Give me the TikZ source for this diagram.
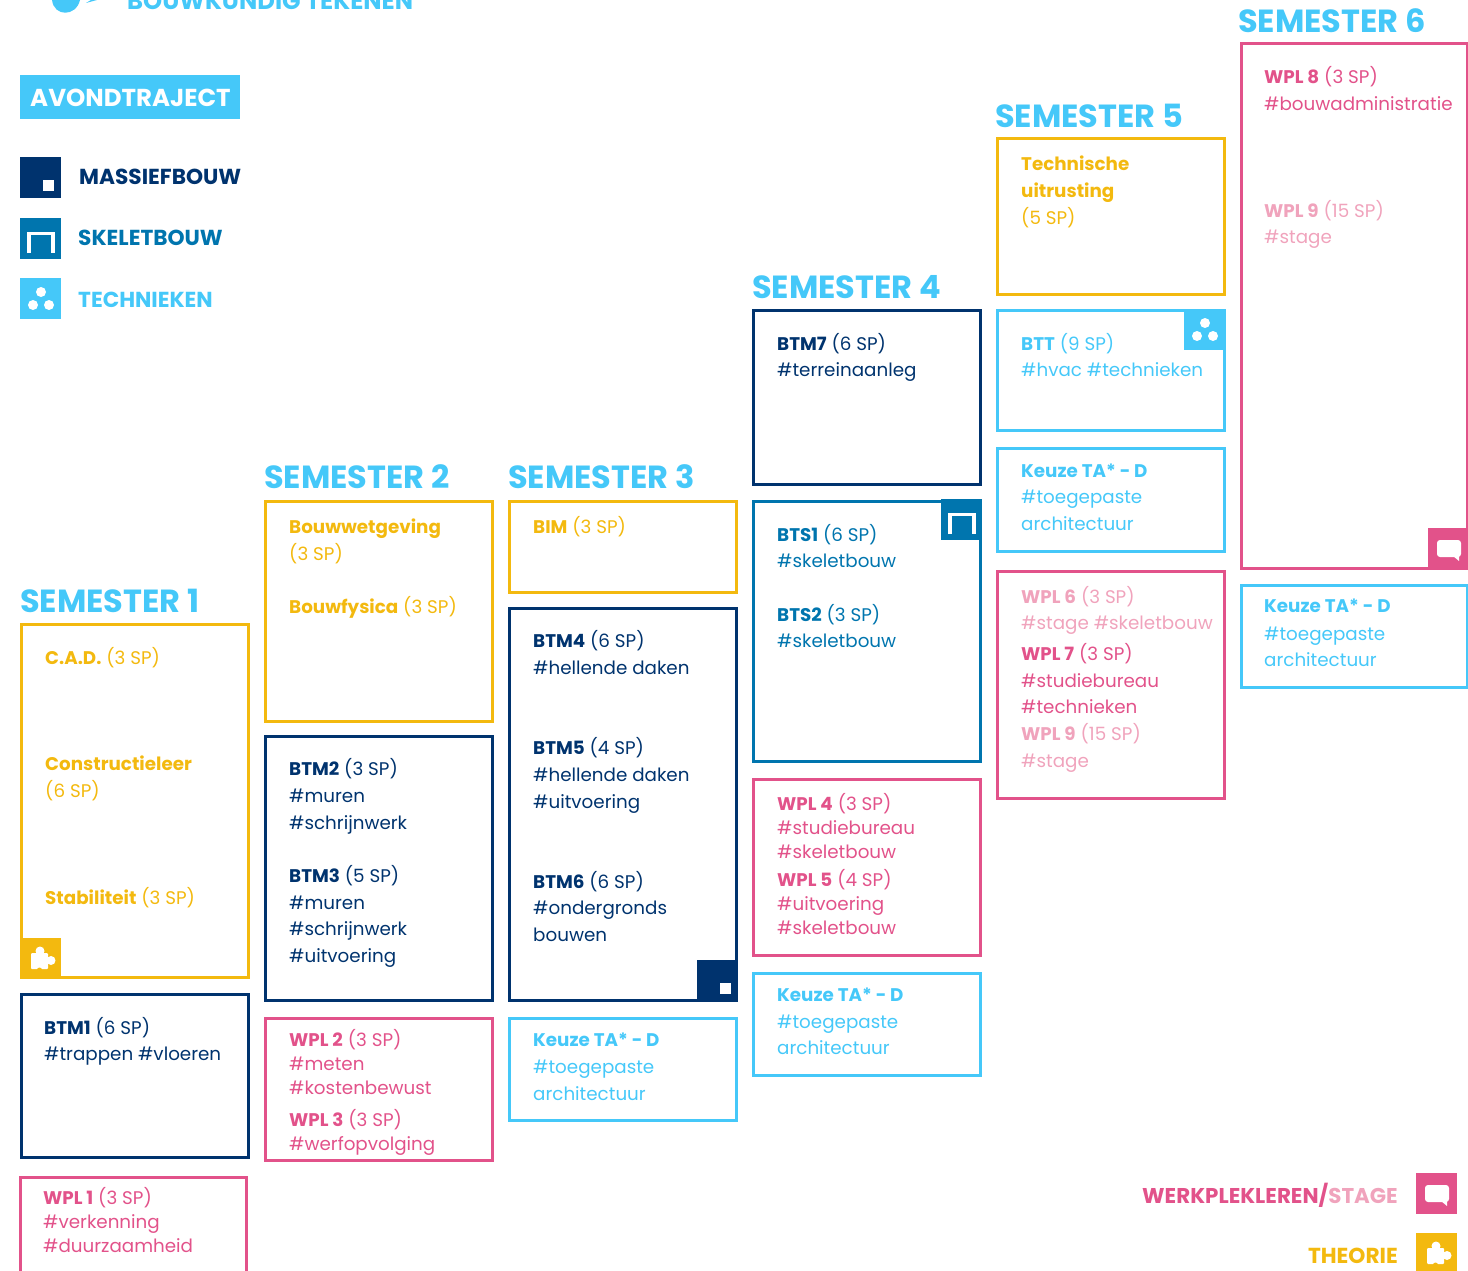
\documentclass[tikz,border=0pt]{standalone}
\usepackage{fontspec}
\setmainfont{Poppins}
\definecolor{cyanT}{HTML}{45C8F9}
\definecolor{navyT}{HTML}{00336E}
\definecolor{blueT}{HTML}{0075AE}
\definecolor{yellowT}{HTML}{F3B90F}
\definecolor{pinkT}{HTML}{E2528A}
\definecolor{roseT}{HTML}{F0A3BC}
\tikzset{
  frame/.style={line width=3pt},
  lbl/.style={anchor=base west,inner sep=0pt,yshift=0.7pt,font=\fontsize{18.3}{20}\selectfont},
  title/.style={anchor=base west,inner sep=0pt,font=\fontsize{32}{34}\selectfont\bfseries},
  legend/.style={anchor=base west,inner sep=0pt,font=\fontsize{21.7}{24}\selectfont\bfseries},
  pics/massief/.style={code={
    \fill[navyT] (0,0) rectangle (41,41);
    \fill[white] (23,23) rectangle (34,34);}},
  pics/skelet/.style={code={
    \fill[blueT] (0,0) rectangle (41,41);
    \draw[white,line width=3.5pt] (8.75,35) -- (8.75,15.5) -- (33,15.5) -- (33,35);}},
  pics/techniek/.style={code={
    \fill[cyanT] (0,0) rectangle (41,41);
    \fill[white] (21,14) circle (5) (13,27) circle (5) (29,27) circle (5);}},
  pics/puzzel/.style={code={
    \fill[yellowT] (0,0) rectangle (41,41);
    \fill[white,rounded corners=1pt] (11,15) rectangle (28,31);
    \fill[white] (20,13) circle (4.5) (31,22.5) circle (4.5);
    \fill[yellowT] (19.5,32) circle (2.5);}},
  pics/praat/.style={code={
    \fill[pinkT] (0,0) rectangle (41,41);
    \fill[white,rounded corners=3pt] (9,12) rectangle (33,29);
    \fill[white] (25,28) -- (31,33) -- (31,28) -- cycle;}},
}
\begin{document}
\begin{tikzpicture}[x=1pt,y=-1pt]
  \useasboundingbox (0,0) rectangle (1468,1271);
  \begin{scope}
    \clip (0,0) rectangle (1468,1271);
    % top of the page
    \fill[cyanT] (52,0) .. controls (54,17) and (76,17) .. (80,0) -- cycle;
    \fill[cyanT] (86,3) -- (97,0) -- (91,0) -- cycle;
    \node[legend,cyanT,font=\fontsize{24.3}{26}\selectfont\bfseries] (top) at (127,10) {BOUWKUNDIG TEKENEN};
    % frames
    \draw[frame,yellowT] (21,624) rectangle (248,977);
    \draw[frame,navyT] (21,994) rectangle (248,1157);
    \draw[frame,pinkT] (20,1177) rectangle (246,1290);
    \draw[frame,yellowT] (265,501) rectangle (492,721);
    \draw[frame,navyT] (265,736) rectangle (492,1000);
    \draw[frame,pinkT] (265,1018) rectangle (492,1160);
    \draw[frame,yellowT] (509,501) rectangle (736,592);
    \draw[frame,navyT] (509,608) rectangle (736,1000);
    \draw[frame,cyanT] (509,1018) rectangle (736,1120);
    \draw[frame,navyT] (753,310) rectangle (980,484);
    \draw[frame,blueT] (753,501) rectangle (980,761);
    \draw[frame,pinkT] (753,779) rectangle (980,955);
    \draw[frame,cyanT] (753,973) rectangle (980,1075);
    \draw[frame,yellowT] (997,139) rectangle (1224,294);
    \draw[frame,cyanT] (997,310) rectangle (1224,430);
    \draw[frame,cyanT] (997,448) rectangle (1224,551);
    \draw[frame,pinkT] (997,571) rectangle (1224,798);
    \draw[frame,pinkT] (1241,44) rectangle (1467,568);
    \draw[frame,cyanT] (1241,585) rectangle (1467,687);
    % icons
    \pic at (20,157) {massief};
    \pic at (20,218) {skelet};
    \pic at (20,278) {techniek};
    \pic at (20,938) {puzzel};
    \pic at (941,499) {skelet};
    \pic at (697,960) {massief};
    \pic at (1184,309) {techniek};
    \pic at (1428,528) {praat};
    \pic at (1416,1173) {praat};
    \pic at (1416,1233) {puzzel};
  \end{scope}
  % legend
  \fill[cyanT] (20,75) rectangle (240,119);
  \node[legend,white,font=\fontsize{24.5}{26}\selectfont\bfseries] (avond) at (30,107) {AVONDTRAJECT};
  \node[legend,navyT] (massief) at (79,185) {MASSIEFBOUW};
  \node[legend,blueT] (skelet) at (78,245) {SKELETBOUW};
  \node[legend,cyanT] (techniek) at (78,307) {TECHNIEKEN};
  \node[legend,anchor=base east,font=\fontsize{21.4}{24}\selectfont\bfseries] (wpl) at (1398,1203) {\textcolor{pinkT}{WERKPLEKLEREN/}\textcolor{roseT}{STAGE}};
  \node[legend,anchor=base east,yellowT] (theorie) at (1398,1263) {THEORIE};
  % semesters
  \node[title,cyanT] (sem1) at (20,612) {SEMESTER 1};
  \node[title,cyanT] (sem2) at (264,488) {SEMESTER 2};
  \node[title,cyanT] (sem3) at (508,488) {SEMESTER 3};
  \node[title,cyanT] (sem4) at (752,298) {SEMESTER 4};
  \node[title,cyanT] (sem5) at (995,128) {SEMESTER 5};
  \node[title,cyanT] (sem6) at (1238,33) {SEMESTER 6};
  % semester 1
  \node[lbl,yellowT] (cad) at (45,665) {\textbf{C.A.D.} (3 SP)};
  \node[lbl,yellowT] (con) at (45,771) {\textbf{Constructieleer}};
  \node[lbl,yellowT] (cona) at (45,798) {(6 SP)};
  \node[lbl,yellowT] (sta) at (45,905) {\textbf{Stabiliteit} (3 SP)};
  \node[lbl,navyT] (btm1) at (44,1035) {\textbf{BTM1} (6 SP)};
  \node[lbl,navyT] (btm1a) at (44,1061) {\#trappen \#vloeren};
  \node[lbl,pinkT] (wpl1) at (43,1205) {\textbf{WPL 1} (3 SP)};
  \node[lbl,pinkT] (wpl1a) at (43,1229) {\#verkenning};
  \node[lbl,pinkT] (wpl1b) at (43,1253) {\#duurzaamheid};
  % semester 2
  \node[lbl,yellowT] (bou) at (289,534) {\textbf{Bouwwetgeving}};
  \node[lbl,yellowT] (boua) at (289,561) {(3 SP)};
  \node[lbl,yellowT] (fys) at (289,614) {\textbf{Bouwfysica} (3 SP)};
  \node[lbl,navyT] (btm2) at (289,776) {\textbf{BTM2} (3 SP)};
  \node[lbl,navyT] (btm2a) at (289,803) {\#muren};
  \node[lbl,navyT] (btm2b) at (289,830) {\#schrijnwerk};
  \node[lbl,navyT] (btm3) at (289,883) {\textbf{BTM3} (5 SP)};
  \node[lbl,navyT] (btm3a) at (289,910) {\#muren};
  \node[lbl,navyT] (btm3b) at (289,936) {\#schrijnwerk};
  \node[lbl,navyT] (btm3c) at (289,963) {\#uitvoering};
  \node[lbl,pinkT] (wpl2) at (289,1047) {\textbf{WPL 2} (3 SP)};
  \node[lbl,pinkT] (wpl2a) at (289,1071) {\#meten};
  \node[lbl,pinkT] (wpl2b) at (289,1095) {\#kostenbewust};
  \node[lbl,pinkT] (wpl3) at (289,1127) {\textbf{WPL 3} (3 SP)};
  \node[lbl,pinkT] (wpl3a) at (289,1151) {\#werfopvolging};
  % semester 3
  \node[lbl,yellowT] (bim) at (533,534) {\textbf{BIM} (3 SP)};
  \node[lbl,navyT] (btm4) at (533,648) {\textbf{BTM4} (6 SP)};
  \node[lbl,navyT] (btm4a) at (533,675) {\#hellende daken};
  \node[lbl,navyT] (btm5) at (533,755) {\textbf{BTM5} (4 SP)};
  \node[lbl,navyT] (btm5a) at (533,782) {\#hellende daken};
  \node[lbl,navyT] (btm5b) at (533,809) {\#uitvoering};
  \node[lbl,navyT] (btm6) at (533,889) {\textbf{BTM6} (6 SP)};
  \node[lbl,navyT] (btm6a) at (533,915) {\#ondergronds};
  \node[lbl,navyT] (btm6b) at (533,942) {bouwen};
  \node[lbl,cyanT] (keu3) at (533,1047) {\textbf{Keuze TA* - D}};
  \node[lbl,cyanT] (keu3a) at (533,1074) {\#toegepaste};
  \node[lbl,cyanT] (keu3b) at (533,1101) {architectuur};
  % semester 4
  \node[lbl,navyT] (btm7) at (777,351) {\textbf{BTM7} (6 SP)};
  \node[lbl,navyT] (btm7a) at (777,377) {\#terreinaanleg};
  \node[lbl,blueT] (bts1) at (777,542) {\textbf{BTS1} (6 SP)};
  \node[lbl,blueT] (bts1a) at (777,568) {\#skeletbouw};
  \node[lbl,blueT] (bts2) at (777,622) {\textbf{BTS2} (3 SP)};
  \node[lbl,blueT] (bts2a) at (777,648) {\#skeletbouw};
  \node[lbl,pinkT] (wpl4) at (777,811) {\textbf{WPL 4} (3 SP)};
  \node[lbl,pinkT] (wpl4a) at (777,835) {\#studiebureau};
  \node[lbl,pinkT] (wpl4b) at (777,859) {\#skeletbouw};
  \node[lbl,pinkT] (wpl5) at (777,887) {\textbf{WPL 5} (4 SP)};
  \node[lbl,pinkT] (wpl5a) at (777,911) {\#uitvoering};
  \node[lbl,pinkT] (wpl5b) at (777,935) {\#skeletbouw};
  \node[lbl,cyanT] (keu4) at (777,1002) {\textbf{Keuze TA* - D}};
  \node[lbl,cyanT] (keu4a) at (777,1029) {\#toegepaste};
  \node[lbl,cyanT] (keu4b) at (777,1055) {architectuur};
  % semester 5
  \node[lbl,yellowT] (tec) at (1021,171) {\textbf{Technische}};
  \node[lbl,yellowT] (teca) at (1021,198) {\textbf{uitrusting}};
  \node[lbl,yellowT] (tecb) at (1021,225) {(5 SP)};
  \node[lbl,cyanT] (btt) at (1021,351) {\textbf{BTT} (9 SP)};
  \node[lbl,cyanT] (btta) at (1021,377) {\#hvac \#technieken};
  \node[lbl,cyanT] (keu5) at (1021,478) {\textbf{Keuze TA* - D}};
  \node[lbl,cyanT] (keu5a) at (1021,504) {\#toegepaste};
  \node[lbl,cyanT] (keu5b) at (1021,531) {architectuur};
  \node[lbl,roseT] (wpl6) at (1021,604) {\textbf{WPL 6} (3 SP)};
  \node[lbl,roseT] (wpl6a) at (1021,630) {\#stage \#skeletbouw};
  \node[lbl,pinkT] (wpl7) at (1021,661) {\textbf{WPL 7} (3 SP)};
  \node[lbl,pinkT] (wpl7a) at (1021,688) {\#studiebureau};
  \node[lbl,pinkT] (wpl7b) at (1021,714) {\#technieken};
  \node[lbl,roseT] (wpl9) at (1021,741) {\textbf{WPL 9} (15 SP)};
  \node[lbl,roseT] (wpl9a) at (1021,768) {\#stage};
  % semester 6
  \node[lbl,pinkT] (wpl8) at (1264,84) {\textbf{WPL 8} (3 SP)};
  \node[lbl,pinkT] (wpl8a) at (1264,111) {\#bouwadministratie};
  \node[lbl,roseT] (wpl9b) at (1264,218) {\textbf{WPL 9} (15 SP)};
  \node[lbl,roseT] (wpl9c) at (1264,244) {\#stage};
  \node[lbl,cyanT] (keu6) at (1264,613) {\textbf{Keuze TA* - D}};
  \node[lbl,cyanT] (keu6a) at (1264,641) {\#toegepaste};
  \node[lbl,cyanT] (keu6b) at (1264,667) {architectuur};
\end{tikzpicture}
\end{document}
